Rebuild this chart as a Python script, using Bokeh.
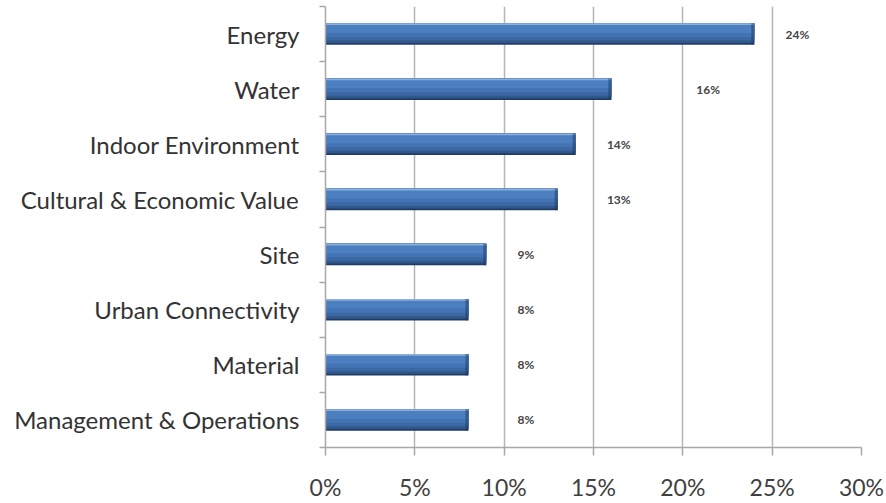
import numpy as np
from bokeh.plotting import figure
from bokeh.models import ColumnDataSource, Range1d, FixedTicker
from bokeh.transform import dodge
from bokeh.core.properties import value
from bokeh.embed import file_html
from bokeh.resources import INLINE

categories = ["Energy", "Water", "Indoor Environment", "Cultural & Economic Value",
              "Site", "Urban Connectivity", "Material", "Management & Operations"]
values = [24, 16, 14, 13, 9, 8, 8, 8]
x_ticks = [0, 5, 10, 15, 20, 25, 30]
x_tick_labels = ["0%", "5%", "10%", "15%", "20%", "25%", "30%"]

n = len(categories)
ypos = [n - 1 - i for i in range(n)]
label_x = [np.ceil(v / 5) * 5 + 0.75 for v in values]
src = ColumnDataSource(dict(y=ypos, v=values, lx=label_x,
                            txt=[f"{v}%" for v in values]))

p = figure(width=886, height=503, output_backend="svg", toolbar_location=None,
           x_range=Range1d(0, 30), y_range=Range1d(-0.5, 7.5),
           min_border_left=325, min_border_right=25, min_border_top=6,
           min_border_bottom=52)
p.outline_line_color = None
p.background_fill_color = "white"

# bar layers (gradient look): nested from the top so there are no seams
H = 0.39
layers = [(1.00, "#203d65"), (0.92, "#30578c"), (0.80, "#3b67a3"), (0.64, "#4373b3"),
          (0.45, "#4b7fc0"), (0.08, "#8bafdd")]
for f1, col in layers:
    off = H / 2 - f1 / 2 * H
    p.hbar(y=dodge("y", off, range=p.y_range), left=0, right="v", height=f1 * H,
           source=src, fill_color=col, line_color=None)
p.hbar(y="y", left=dodge("v", -0.17), right="v", height=H, source=src,
       fill_color="#1a355a", fill_alpha=0.45, line_color=None)

p.text(x="lx", y="y", text="txt", source=src, text_align="left", text_baseline="middle",
       text_font=value("Lato"), text_font_style="bold", text_font_size="12px",
       text_color="#444444")

# grid
p.ygrid.grid_line_color = None
p.xgrid.ticker = FixedTicker(ticks=x_ticks[1:])
p.xgrid.grid_line_color = "#b5b5b5"
p.xgrid.grid_line_width = 1.5

# x axis
xa = p.xaxis[0]
xa.ticker = FixedTicker(ticks=x_ticks)
xa.major_label_overrides = {t: l for t, l in zip(x_ticks, x_tick_labels)}
xa.axis_line_color = "#a8a8a8"
xa.axis_line_width = 1.5
xa.major_tick_line_color = "#a8a8a8"
xa.major_tick_line_width = 1.5
xa.major_tick_out = 8
xa.major_tick_in = 0
xa.minor_tick_line_color = None
xa.major_label_standoff = 17
xa.major_label_text_font = "Lato"
xa.major_label_text_font_size = "23px"
xa.major_label_text_color = "#404040"

# y axis
ya = p.yaxis[0]
ya.ticker = FixedTicker(ticks=ypos, minor_ticks=[i - 0.5 for i in range(n + 1)])
ya.major_label_overrides = {y: c for y, c in zip(ypos, categories)}
ya.axis_line_color = "#a8a8a8"
ya.axis_line_width = 1.5
ya.major_tick_line_color = None
ya.major_tick_out = 0
ya.major_tick_in = 0
ya.minor_tick_line_color = "#a8a8a8"
ya.minor_tick_line_width = 1.5
ya.minor_tick_out = 6
ya.minor_tick_in = 0
ya.major_label_standoff = 20
ya.major_label_text_font = "Lato"
ya.major_label_text_font_size = "24px"
ya.major_label_text_color = "#333333"

open("out.html", "w").write(file_html(p, INLINE))
